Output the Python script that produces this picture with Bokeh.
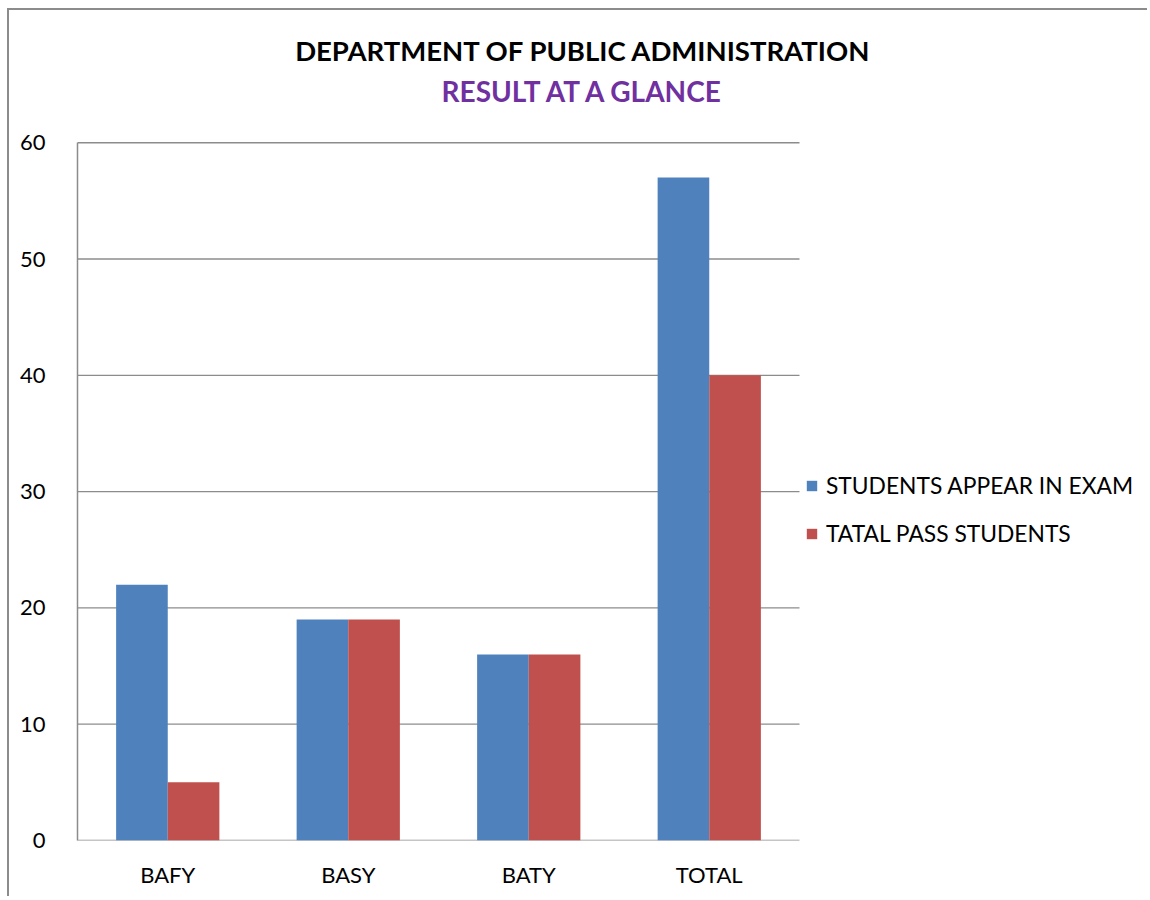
from bokeh.plotting import figure
from bokeh.models import ColumnDataSource, Range1d, Legend, LegendItem, FixedTicker, Label
from bokeh.embed import file_html
from bokeh.resources import INLINE

categories = ["BAFY", "BASY", "BATY", "TOTAL"]
appear = [22, 19, 16, 57]
passed = [5, 19, 16, 40]
series_names = ["STUDENTS APPEAR IN EXAM", "TATAL PASS STUDENTS"]
title_text = "DEPARTMENT OF PUBLIC ADMINISTRATION"
subtitle_text = "RESULT AT A GLANCE"
y_ticks = [0, 10, 20, 30, 40, 50, 60]

FONT = "Lato"
GRID = "#8c8c8c"
BAR_W = 0.286
ncat = len(categories)
centers = [i + 0.5 for i in range(ncat)]
y_max = y_ticks[-1]

src = ColumnDataSource(dict(
    x1=[c - BAR_W / 2 for c in centers], x2=[c + BAR_W / 2 for c in centers],
    appear=appear, passed=passed))
grid_src = ColumnDataSource(dict(y=y_ticks, x0=[0] * len(y_ticks), x1=[ncat] * len(y_ticks)))

# The frame covers the whole canvas except the left/bottom axis areas; the
# category part occupies the first ncat units, the value axis runs 0..60
p = figure(x_range=Range1d(0, 5.939), y_range=Range1d(0, 71.37),
           width=1140, height=888, output_backend="svg", toolbar_location=None,
           min_border_left=68, min_border_right=0, min_border_top=0, min_border_bottom=58)
p.styles = {"margin-left": "7px", "margin-top": "8px",
            "border-left": "2px solid #8c8c8c", "border-top": "2px solid #8c8c8c"}
p.outline_line_color = None
p.xgrid.grid_line_color = None
p.ygrid.grid_line_color = None

p.segment(x0="x0", x1="x1", y0="y", y1="y", source=grid_src, line_color=GRID, line_width=1.3)

p.yaxis.ticker = FixedTicker(ticks=y_ticks)
p.yaxis.bounds = (0, y_max)
p.xaxis.ticker = FixedTicker(ticks=centers)
p.xaxis.major_label_overrides = {c: name for c, name in zip(centers, categories)}

for ax in (p.xaxis, p.yaxis):
    ax.axis_line_color = GRID
    ax.axis_line_width = 1.5
    ax.major_tick_line_color = None
    ax.minor_tick_line_color = None
    ax.major_label_text_font = FONT
    ax.major_label_text_font_size = "22px"
    ax.major_label_text_color = "black"
p.xaxis.axis_line_color = None
p.yaxis.major_label_standoff = 26
p.xaxis.major_label_standoff = 14

r1 = p.vbar(x="x1", top="appear", width=BAR_W, source=src, fill_color="#4F81BD", line_color=None)
r2 = p.vbar(x="x2", top="passed", width=BAR_W, source=src, fill_color="#C0504D", line_color=None)

legend = Legend(items=[LegendItem(label=series_names[0], renderers=[r1]),
                       LegendItem(label=series_names[1], renderers=[r2])],
                location=(728, 293), orientation="vertical")
legend.border_line_color = None
legend.background_fill_alpha = 0
legend.label_text_font = FONT
legend.label_text_font_size = "22.8px"
legend.label_text_color = "black"
legend.glyph_width = 13
legend.glyph_height = 13
legend.label_standoff = 8
legend.spacing = 20
legend.label_height = 22
legend.padding = 0
legend.margin = 0
p.add_layout(legend, "center")

p.add_layout(Label(x=2.803, y=67.93, text=title_text, text_font=FONT, text_font_size="27.5px",
                   text_font_style="bold", text_color="black", text_align="center",
                   text_baseline="middle"))
p.add_layout(Label(x=2.803, y=64.49, text=subtitle_text, text_font=FONT, text_font_size="28px",
                   text_font_style="bold", text_color="#7030A0", text_align="center",
                   text_baseline="middle"))

open("out.html", "w").write(file_html(p, INLINE))
